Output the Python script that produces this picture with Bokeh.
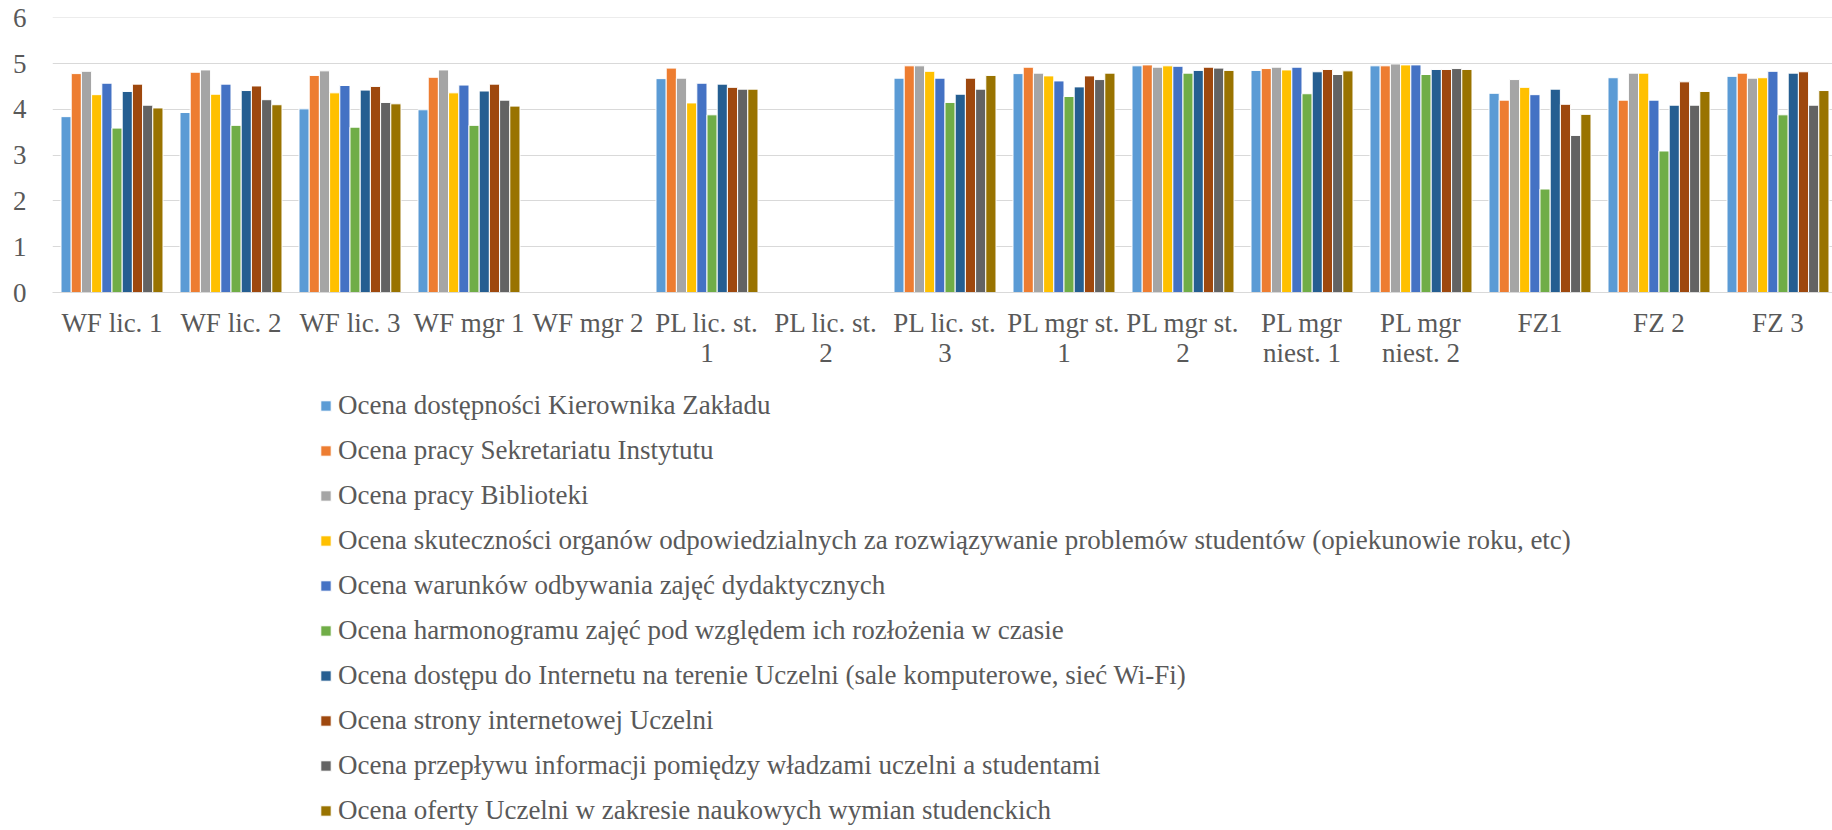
import math
from bokeh.plotting import figure
from bokeh.layouts import column
from bokeh.models import ColumnDataSource, Range1d, FixedTicker, Legend, LegendItem
from bokeh.transform import dodge
from bokeh.embed import file_html
from bokeh.resources import INLINE

nan = float("nan")

categories = ["WF lic. 1", "WF lic. 2", "WF lic. 3", "WF mgr 1", "WF mgr 2",
              "PL lic. st. 1", "PL lic. st. 2", "PL lic. st. 3", "PL mgr st. 1",
              "PL mgr st. 2", "PL mgr niest. 1", "PL mgr niest. 2", "FZ1", "FZ 2", "FZ 3"]
tick_labels = ["WF lic. 1", "WF lic. 2", "WF lic. 3", "WF mgr 1", "WF mgr 2",
               "PL lic. st.\n1", "PL lic. st.\n2", "PL lic. st.\n3", "PL mgr st.\n1",
               "PL mgr st.\n2", "PL mgr\nniest. 1", "PL mgr\nniest. 2", "FZ1", "FZ 2", "FZ 3"]

series_names = [
    "Ocena dostępności Kierownika Zakładu",
    "Ocena pracy Sekretariatu Instytutu",
    "Ocena pracy Biblioteki",
    "Ocena skuteczności organów odpowiedzialnych za rozwiązywanie problemów studentów (opiekunowie roku, etc)",
    "Ocena warunków odbywania zajęć dydaktycznych",
    "Ocena harmonogramu zajęć pod względem ich rozłożenia w czasie",
    "Ocena dostępu do Internetu na terenie Uczelni (sale komputerowe, sieć Wi-Fi)",
    "Ocena strony internetowej Uczelni",
    "Ocena przepływu informacji pomiędzy władzami uczelni a studentami",
    "Ocena oferty Uczelni w zakresie naukowych wymian studenckich",
]

kierownik = [3.84, 3.93, 4.01, 3.99, nan, 4.67, nan, 4.68, 4.78, 4.95, 4.85, 4.95, 4.35, 4.69, 4.72]
sekretariat = [4.78, 4.81, 4.74, 4.70, nan, 4.90, nan, 4.95, 4.92, 4.97, 4.89, 4.95, 4.20, 4.20, 4.79]
biblioteka = [4.83, 4.86, 4.84, 4.86, nan, 4.68, nan, 4.95, 4.79, 4.92, 4.92, 4.99, 4.65, 4.79, 4.68]
skutecznosc = [4.32, 4.33, 4.36, 4.36, nan, 4.14, nan, 4.83, 4.73, 4.95, 4.86, 4.97, 4.48, 4.79, 4.69]
warunki = [4.57, 4.55, 4.52, 4.53, nan, 4.57, nan, 4.68, 4.62, 4.94, 4.92, 4.97, 4.32, 4.20, 4.83]
harmonogram = [3.59, 3.65, 3.61, 3.65, nan, 3.88, nan, 4.15, 4.28, 4.79, 4.34, 4.76, 2.26, 3.09, 3.88]
internet = [4.39, 4.41, 4.42, 4.40, nan, 4.55, nan, 4.33, 4.49, 4.85, 4.82, 4.87, 4.44, 4.09, 4.79]
strona = [4.55, 4.51, 4.50, 4.55, nan, 4.48, nan, 4.68, 4.73, 4.92, 4.87, 4.87, 4.11, 4.60, 4.82]
przeplyw = [4.09, 4.21, 4.15, 4.20, nan, 4.44, nan, 4.44, 4.65, 4.90, 4.76, 4.89, 3.43, 4.09, 4.09]
oferta = [4.03, 4.10, 4.12, 4.07, nan, 4.44, nan, 4.74, 4.79, 4.85, 4.84, 4.87, 3.89, 4.39, 4.41]

series_values = [kierownik, sekretariat, biblioteka, skutecznosc, warunki,
                 harmonogram, internet, strona, przeplyw, oferta]

colors = ["#5B9BD5", "#ED7D31", "#A5A5A5", "#FFC000", "#4472C4",
          "#70AD47", "#255E91", "#9E480E", "#636363", "#997300"]

y_ticks = [0, 1, 2, 3, 4, 5, 6]

FONT = "Liberation Serif"
TXT = "#595959"
GRID = "#D9D9D9"
FS = "27px"

# ---- main chart ----
p = figure(width=1832, height=393, output_backend="svg", toolbar_location=None,
           x_range=Range1d(-0.5, 14.458), y_range=Range1d(0, 6.005),
           min_border_left=52, min_border_right=0, min_border_top=17,
           min_border_bottom=101)
p.outline_line_color = None
p.background_fill_color = "white"

# ---- legend panel (same frame alignment, bars kept out of view) ----
lg = figure(width=1832, height=437, output_backend="svg", toolbar_location=None,
            x_range=Range1d(-100, -99), y_range=Range1d(0, 6),
            min_border_left=52, min_border_right=0, min_border_top=0,
            min_border_bottom=0)
lg.outline_line_color = None
lg.axis.visible = False
lg.grid.visible = False

bar_w = 0.0857
n = len(series_values)
items = []
for i, (name, vals, col) in enumerate(zip(series_names, series_values, colors)):
    xs = [k for k, v in enumerate(vals) if not math.isnan(v)]
    tops = [v for v in vals if not math.isnan(v)]
    src = ColumnDataSource(dict(x=xs, top=tops))
    off = (i - (n - 1) / 2) * bar_w
    p.vbar(x=dodge("x", off, range=p.x_range), top="top", bottom=0, width=bar_w,
           source=src, fill_color=col, line_color="white", line_width=1)
    r = lg.vbar(x="x", top="top", bottom=0, width=bar_w, source=src,
                fill_color=col, line_color="white", line_width=1)
    items.append(LegendItem(label=name, renderers=[r]))

p.xgrid.visible = False
p.ygrid.ticker = FixedTicker(ticks=y_ticks)
p.ygrid.grid_line_color = GRID
p.ygrid.grid_line_width = 1

p.yaxis.ticker = FixedTicker(ticks=y_ticks)
p.yaxis.axis_line_color = None
p.yaxis.major_tick_line_color = None
p.yaxis.minor_tick_line_color = None
p.yaxis.major_label_standoff = 20
p.yaxis.major_label_text_font = FONT
p.yaxis.major_label_text_font_size = FS
p.yaxis.major_label_text_color = TXT

p.xaxis.ticker = FixedTicker(ticks=list(range(len(categories))))
p.xaxis.major_label_overrides = {k: lab for k, lab in enumerate(tick_labels)}
p.xaxis.axis_line_color = GRID
p.xaxis.axis_line_width = 1
p.xaxis.major_tick_line_color = None
p.xaxis.minor_tick_line_color = None
p.xaxis.major_label_standoff = 9
p.xaxis.major_label_text_font = FONT
p.xaxis.major_label_text_font_size = FS
p.xaxis.major_label_text_color = TXT
p.xaxis.major_label_text_line_height = 1.0

legend = Legend(items=items, location=(267, 4), orientation="vertical",
                label_text_font=FONT, label_text_font_size=FS, label_text_color=TXT,
                glyph_width=13, glyph_height=13, label_standoff=6,
                label_height=30, spacing=14, padding=0, margin=0,
                border_line_color=None, background_fill_alpha=0)
lg.add_layout(legend)

layout = column(p, lg, spacing=0)
open("out.html", "w").write(file_html(layout, INLINE))
